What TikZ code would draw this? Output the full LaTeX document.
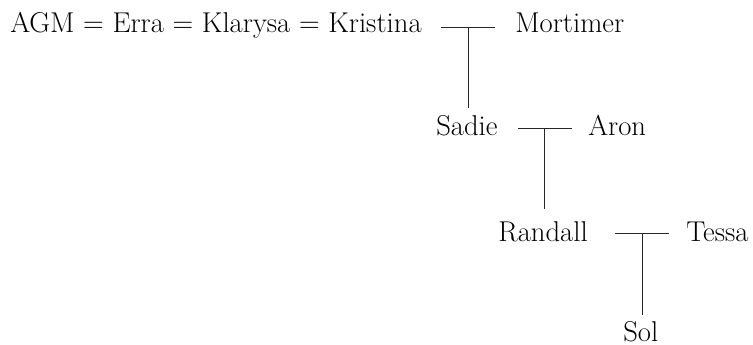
\documentclass[tikz,border=0pt]{standalone}
\usetikzlibrary{calc}
\begin{document}
\begin{tikzpicture}[x=0.75pt,y=-0.75pt,
  person/.style={anchor=base west,inner sep=0pt,font=\fontsize{21.5}{25}\selectfont},
  tie/.style={line width=0.6pt,black!85}]
\useasboundingbox (0,0) rectangle (753,345);
\node[person] (agm) at (10,33) {AGM = Erra = Klarysa = Kristina};
\node[person] (mort) at (515,33) {Mortimer};
\node[person] (sadie) at (436,136) {Sadie};
\node[person] (aron) at (588,136) {Aron};
\node[person] (randall) at (498,242) {Randall};
\node[person] (tessa) at (686,242) {Tessa};
\node[person] (sol) at (623,341) {Sol};
% couple 1
\coordinate (a1) at (441,27);
\coordinate (b1) at (495,27);
\coordinate (c1) at (468,27);
\draw[tie] (a1) -- (b1);
\draw[tie,shorten >=6pt] (c1) -- (c1 |- sadie.north);
% couple 2
\coordinate (a2) at (518,128);
\coordinate (b2) at (572,128);
\coordinate (c2) at (544,128);
\draw[tie] (a2) -- (b2);
\draw[tie,shorten >=10pt] (c2) -- (c2 |- randall.north);
% couple 3
\coordinate (a3) at (615,233);
\coordinate (b3) at (669,233);
\coordinate (c3) at (642,233);
\draw[tie] (a3) -- (b3);
\draw[tie,shorten >=4.5pt] (c3) -- (c3 |- sol.north);
\end{tikzpicture}
\end{document}
